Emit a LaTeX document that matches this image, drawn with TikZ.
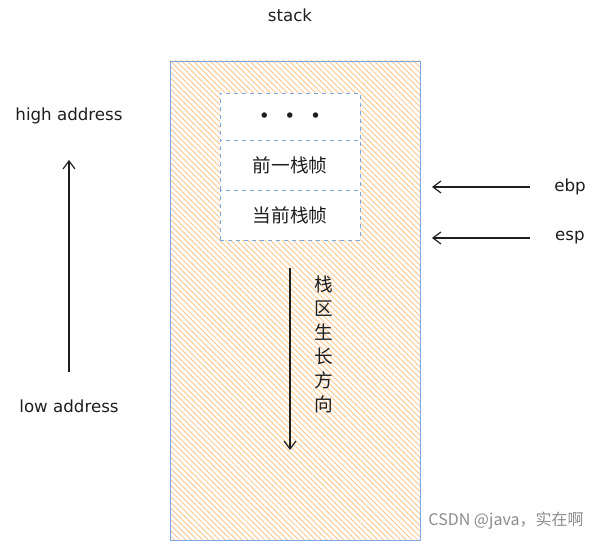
\documentclass[tikz,border=0pt]{standalone}
\usepackage{fontspec}
\setmainfont{DejaVu Sans}
\newfontfamily\cjk{Noto Sans CJK SC}
\newfontfamily\dvs{DejaVu Sans}
\usetikzlibrary{arrows.meta,patterns.meta}
\definecolor{hatch}{HTML}{FFC48A}
\definecolor{bluebd}{HTML}{7EA6E0}
\definecolor{ink}{HTML}{1E1E1E}
\begin{document}
\begin{tikzpicture}[x=0.75pt,y=-0.75pt,
  lbl/.style={font=\fontsize{12.5}{14}\selectfont, text=ink, inner sep=0pt},
  frame/.style={draw=bluebd, dashed, fill=white, minimum width=105pt, minimum height=37.5pt, inner sep=0pt, font=\cjk\fontsize{14}{16}\selectfont, text=ink},
  arr/.style={draw=ink, line width=0.9pt, -{Straight Barb[length=6pt,width=9pt,line width=0.9pt]}}]
\useasboundingbox (0,0) rectangle (601,541);
% stack rectangle
\node[draw=bluebd, line width=0.6pt, minimum width=187.5pt, minimum height=359.25pt, inner sep=0pt,
  pattern={Lines[angle=-45,distance=3pt,line width=0.65pt]}, pattern color=hatch] (stack) at (295,300.5) {};
\node[lbl] (title) at (290,15) {stack};
% frames
\node[frame] (dots) at (290,118) {\dvs\fontsize{14}{14}\selectfont •\hspace{11pt}•\hspace{11pt}•};
\node[frame] (prev) at (290,165.5) {前一栈帧};
\node[frame] (cur) at (290,215.5) {当前栈帧};
% address arrow
\node[lbl] (high) at (69,116) {high address};
\node[lbl] (low) at (69,406) {low address};
\coordinate (ubot) at (69,372);
\coordinate (utop) at (69,160);
\draw[arr] (ubot) -- (utop);
% ebp / esp
\node[lbl] (ebp) at (570,187) {ebp};
\node[lbl] (esp) at (570,238) {esp};
\coordinate (ebpA) at (530,187);
\coordinate (ebpB) at (432,187);
\coordinate (espA) at (530,238);
\coordinate (espB) at (432,238);
\draw[arr] (ebpA) -- (ebpB);
\draw[arr] (espA) -- (espB);
% growth direction
\coordinate (gtop) at (290,268);
\coordinate (gbot) at (290,450);
\draw[arr] (gtop) -- (gbot);
\node[inner sep=0pt, align=center, font=\cjk\fontsize{14}{18}\selectfont, text=ink] (grow) at (324,344) {栈\\区\\生\\长\\方\\向};
% watermark
\node[inner sep=0pt, font=\cjk\fontsize{12}{14}\selectfont, text=black!45] (wm) at (506,521) {CSDN @java，实在啊};
\end{tikzpicture}
\end{document}
